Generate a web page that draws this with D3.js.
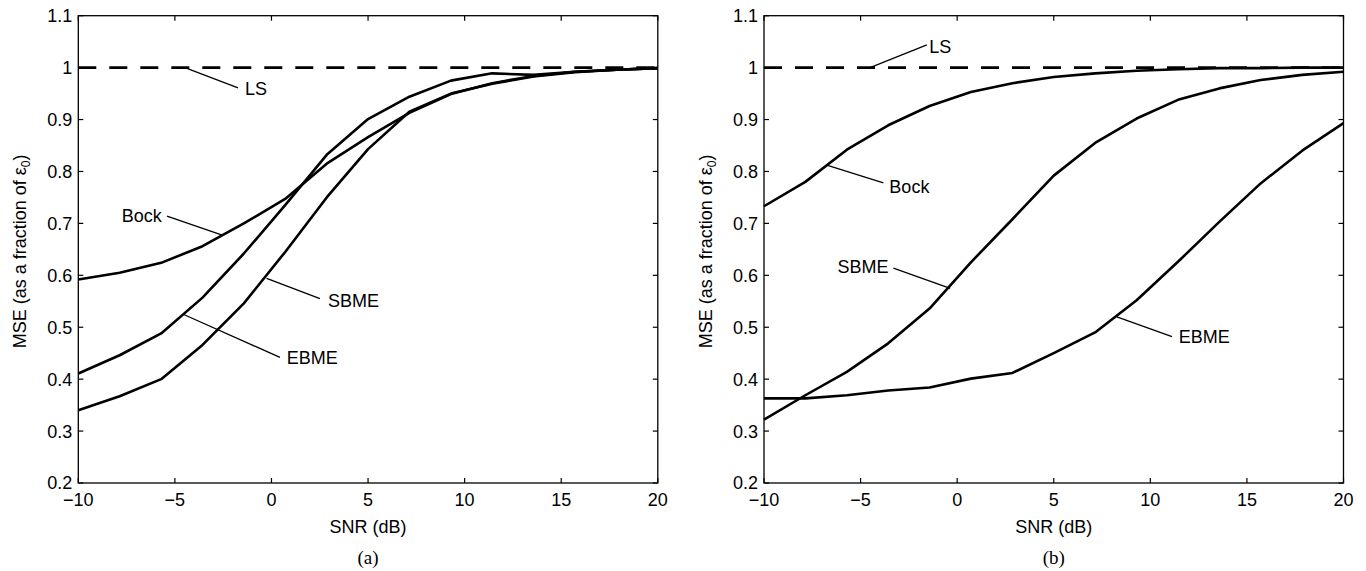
<!DOCTYPE html>
<html>
<head>
<meta charset="utf-8">
<script src="https://cdn.jsdelivr.net/npm/d3@7"></script>
<style>
  body { margin: 0; background: #fff; }
  svg { display: block; }
  text { font-family: "Liberation Sans", Arial, Helvetica, sans-serif; fill: #000; }
</style>
</head>
<body>
<svg id="chart" width="1366" height="571"></svg>
<script>
(function() {

// SNR sample points (dB)
const snr = [-10, -7.86, -5.71, -3.57, -1.43, 0.71, 2.86, 5, 7.14, 9.29, 11.43, 13.57, 15.71, 17.86, 20];

// panel (a)
const lsA   = [1, 1, 1, 1, 1, 1, 1, 1, 1, 1, 1, 1, 1, 1, 1];
const bockA = [0.592, 0.605, 0.624, 0.656, 0.700, 0.747, 0.815, 0.866, 0.913, 0.949, 0.970, 0.984, 0.992, 0.996, 0.999];
const ebmeA = [0.411, 0.446, 0.488, 0.557, 0.642, 0.735, 0.832, 0.901, 0.944, 0.975, 0.989, 0.986, 0.992, 0.996, 0.999];
const sbmeA = [0.340, 0.367, 0.400, 0.466, 0.546, 0.645, 0.750, 0.843, 0.915, 0.950, 0.969, 0.983, 0.991, 0.996, 0.999];

// panel (b)
const lsB   = [1, 1, 1, 1, 1, 1, 1, 1, 1, 1, 1, 1, 1, 1, 1];
const bockB = [0.733, 0.780, 0.842, 0.889, 0.926, 0.953, 0.970, 0.982, 0.989, 0.994, 0.997, 0.999, 0.999, 1.0, 1.0];
const sbmeB = [0.322, 0.369, 0.414, 0.469, 0.536, 0.625, 0.708, 0.792, 0.855, 0.902, 0.938, 0.960, 0.976, 0.986, 0.992];
const ebmeB = [0.363, 0.363, 0.369, 0.378, 0.384, 0.401, 0.412, 0.450, 0.490, 0.552, 0.626, 0.703, 0.777, 0.840, 0.893];

const xTicks = [-10, -5, 0, 5, 10, 15, 20];
const xTickLabels = ['\u221210', '\u22125', '0', '5', '10', '15', '20'];
const yTicks = [0.2, 0.3, 0.4, 0.5, 0.6, 0.7, 0.8, 0.9, 1.0, 1.1];
const yTickLabels = ['0.2', '0.3', '0.4', '0.5', '0.6', '0.7', '0.8', '0.9', '1', '1.1'];

// annotation labels: text position and leader line, in data units
const notesA = [
  {text: 'LS',   tx: -1.37, ty: 0.959, anchor: 'start', from: [-1.73, 0.961], to: [-4.48, 1.0]},
  {text: 'Bock', tx: -5.68, ty: 0.716, anchor: 'end',   from: [-5.41, 0.714], to: [-2.51, 0.677]},
  {text: 'SBME', tx: 2.93,  ty: 0.552, anchor: 'start', from: [2.51, 0.555],  to: [-0.25, 0.594]},
  {text: 'EBME', tx: 0.79,  ty: 0.442, anchor: 'start', from: [0.44, 0.442],  to: [-4.57, 0.525]}
];
const notesB = [
  {text: 'LS',   tx: -1.44, ty: 1.040, anchor: 'start', from: [-1.57, 1.044], to: [-4.51, 1.0]},
  {text: 'Bock', tx: -3.51, ty: 0.771, anchor: 'start', from: [-3.82, 0.778], to: [-6.75, 0.812]},
  {text: 'SBME', tx: -3.55, ty: 0.616, anchor: 'end',   from: [-3.30, 0.614], to: [-0.36, 0.575]},
  {text: 'EBME', tx: 11.47, ty: 0.482, anchor: 'start', from: [11.12, 0.482], to: [8.27, 0.520]}
];

const svg = d3.select('#chart');
const top = 15.7;
const bottom = 483;
const plotW = 579.5;
const plotH = bottom - top;
const fs = '18px';

const panels = [
  {left: 78.3, tag: '(a)', series: [lsA, bockA, ebmeA, sbmeA], notes: notesA},
  {left: 764,  tag: '(b)', series: [lsB, bockB, sbmeB, ebmeB], notes: notesB}
];

panels.forEach(p => {
  const x = d3.scaleLinear().domain([-10, 20]).range([0, plotW]);
  const y = d3.scaleLinear().domain([0.2, 1.1]).range([plotH, 0]);

  const g = svg.append('g').attr('transform', `translate(${p.left},${top})`);

  const line = d3.line()
    .x((d, i) => x(snr[i]))
    .y(d => y(d));

  p.series.forEach((s, k) => {
    g.append('path')
      .datum(s)
      .attr('d', line)
      .attr('fill', 'none')
      .attr('stroke', '#000')
      .attr('stroke-width', 2.6)
      .attr('stroke-linejoin', 'round')
      .attr('stroke-dasharray', k === 0 ? '18,13' : null);
  });

  // frame
  g.append('rect')
    .attr('width', plotW).attr('height', plotH)
    .attr('fill', 'none').attr('stroke', '#000').attr('stroke-width', 1.3);

  // inward ticks on all four sides
  const tl = 5;
  const xt = g.append('g');
  xTicks.forEach((t, i) => {
    xt.append('line').attr('x1', x(t)).attr('x2', x(t)).attr('y1', plotH).attr('y2', plotH - tl)
      .attr('stroke', '#000').attr('stroke-width', 1.2);
    xt.append('line').attr('x1', x(t)).attr('x2', x(t)).attr('y1', 0).attr('y2', tl)
      .attr('stroke', '#000').attr('stroke-width', 1.2);
    xt.append('text')
      .attr('x', x(t)).attr('y', plotH + 23.5)
      .attr('text-anchor', 'middle')
      .style('font-size', fs)
      .text(xTickLabels[i]);
  });
  const yt = g.append('g');
  yTicks.forEach((t, i) => {
    yt.append('line').attr('x1', 0).attr('x2', tl).attr('y1', y(t)).attr('y2', y(t))
      .attr('stroke', '#000').attr('stroke-width', 1.2);
    yt.append('line').attr('x1', plotW).attr('x2', plotW - tl).attr('y1', y(t)).attr('y2', y(t))
      .attr('stroke', '#000').attr('stroke-width', 1.2);
    yt.append('text')
      .attr('x', -6).attr('y', y(t) + 6.5)
      .attr('text-anchor', 'end')
      .style('font-size', fs)
      .text(yTickLabels[i]);
  });

  // annotations
  p.notes.forEach(n => {
    g.append('line')
      .attr('x1', x(n.from[0])).attr('y1', y(n.from[1]))
      .attr('x2', x(n.to[0])).attr('y2', y(n.to[1]))
      .attr('stroke', '#000').attr('stroke-width', 1.3);
    g.append('text')
      .attr('x', x(n.tx)).attr('y', y(n.ty) + 6.5)
      .attr('text-anchor', n.anchor)
      .style('font-size', fs)
      .text(n.text);
  });

  // axis titles
  g.append('text')
    .attr('x', plotW / 2).attr('y', plotH + 50.5)
    .attr('text-anchor', 'middle')
    .style('font-size', fs)
    .text('SNR (dB)');

  const yl = g.append('text')
    .attr('transform', `translate(-52,${plotH / 2 + 2}) rotate(-90)`)
    .attr('text-anchor', 'middle')
    .style('font-size', fs);
  yl.append('tspan').text('MSE (as a fraction of \u03b5');
  yl.append('tspan').attr('dy', 4).style('font-size', '12px').text('0');
  yl.append('tspan').attr('dy', -4).text(')');

  g.append('text')
    .attr('x', plotW / 2).attr('y', plotH + 81)
    .attr('text-anchor', 'middle')
    .style('font-family', '"Liberation Serif", "Times New Roman", serif')
    .style('font-size', '19px')
    .text(p.tag);
});

})();
</script>
</body>
</html>
